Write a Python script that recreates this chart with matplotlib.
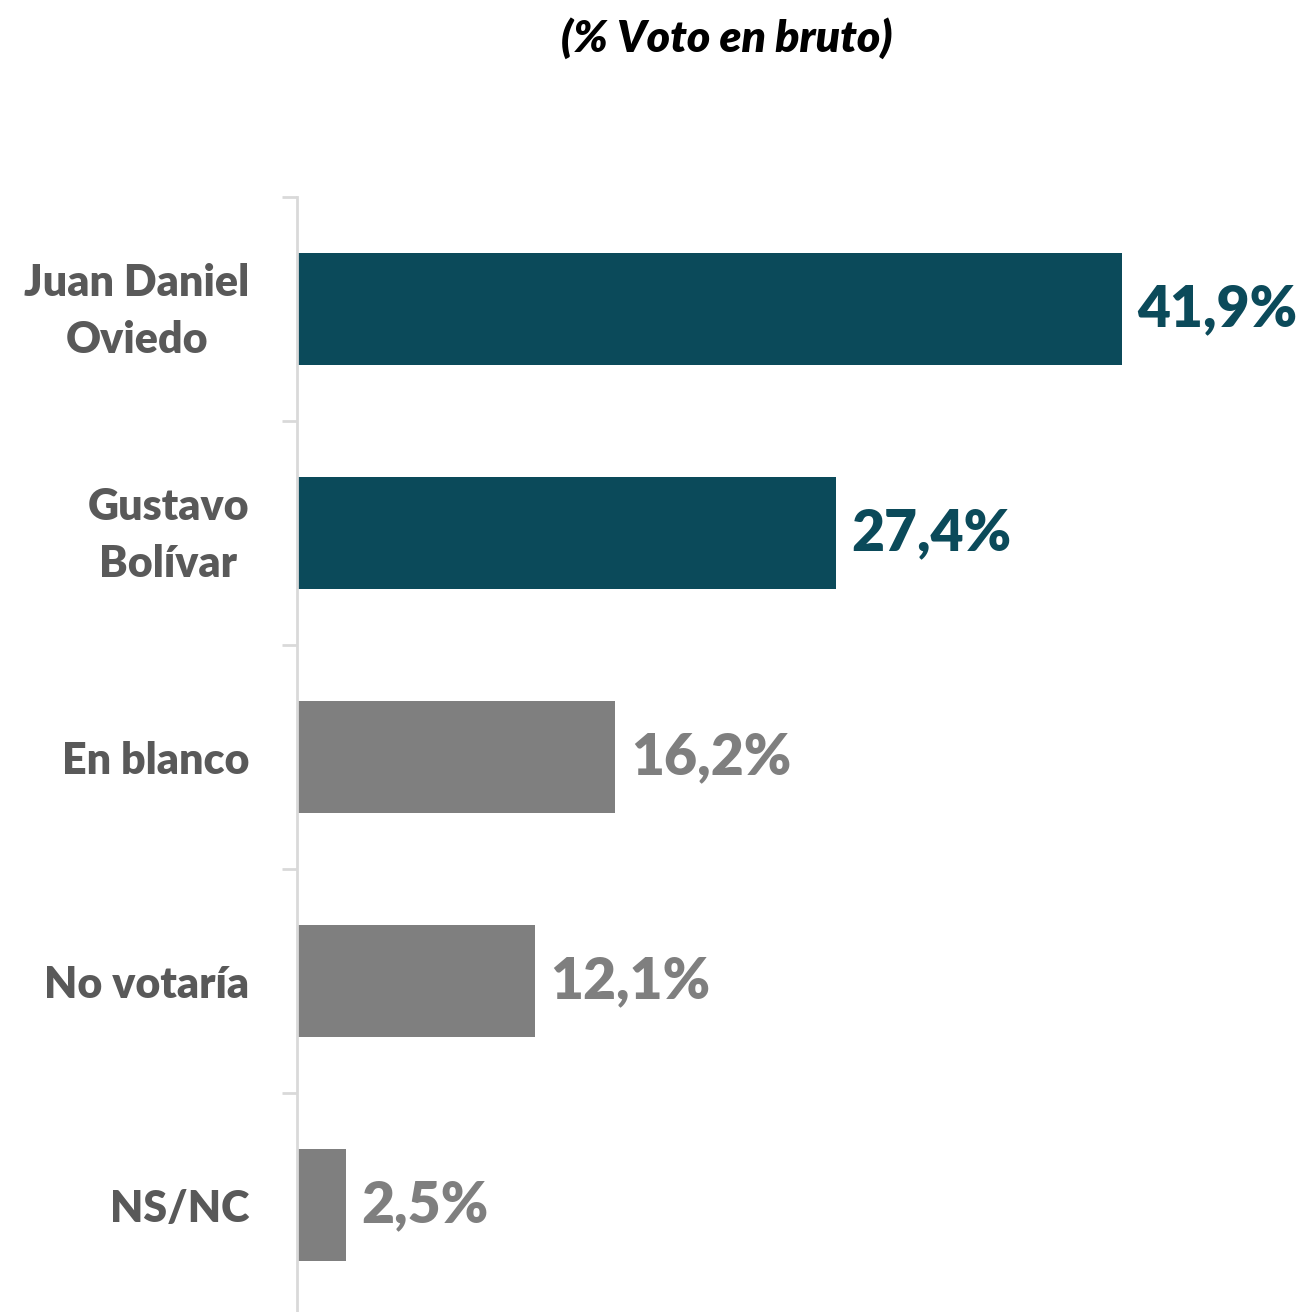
import matplotlib
matplotlib.use("Agg")
import matplotlib.pyplot as plt
import matplotlib.transforms as mtransforms
import numpy as np

categories = ["Juan Daniel\nOviedo", "Gustavo\nBolívar", "En blanco", "No votaría", "NS/NC"]
values = [41.9, 27.4, 16.2, 12.1, 2.5]
value_labels = ["41,9%", "27,4%", "16,2%", "12,1%", "2,5%"]
colors = ["#0B4A5A", "#0B4A5A", "#7F7F7F", "#7F7F7F", "#7F7F7F"]
title = "(% Voto en bruto)"

plt.rcParams['font.family'] = ['Lato', 'DejaVu Sans']

W, H = 1310, 1312
fig = plt.figure(figsize=(W / 100, H / 100), dpi=100)
ax = fig.add_axes([296.5 / W, -5 / H, 1 - 296.5 / W, 1120 / H])

y = np.arange(len(categories))
ax.barh(y, values, height=0.5, color=colors, left=0)
ax.set_xlim(0, 1013.5 / 19.69)
ax.set_ylim(len(categories) - 0.5, -0.5)

for yi, v, lab, c in zip(y, values, value_labels, colors):
    ax.annotate(lab, xy=(v, yi), xytext=(11, 0), textcoords="offset points",
                ha="left", va="center", fontsize=41, fontweight="heavy", color=c)

for s in ["top", "right", "bottom"]:
    ax.spines[s].set_visible(False)
ax.spines["left"].set_color("#D9D9D9")
ax.spines["left"].set_linewidth(2)
ax.xaxis.set_visible(False)

ax.set_yticks(np.arange(-0.5, len(categories) + 0.5, 1.0))
ax.set_yticklabels([])
ax.tick_params(axis="y", which="major", length=11, width=2, color="#D9D9D9")
ax.set_yticks(y, minor=True)
ax.set_yticklabels(categories, minor=True, fontsize=31, fontweight="heavy",
                   color="#595959", multialignment="center", linespacing=1.5)
ax.tick_params(axis="y", which="minor", length=0, pad=34)

shift = mtransforms.ScaledTranslation(0, 9 / 100, fig.dpi_scale_trans)
for t in ax.get_yticklabels(minor=True):
    if "\n" in t.get_text():
        t.set_transform(t.get_transform() + shift)

fig.text(727 / W, 1 - 38 / H, title, ha="center", va="center", fontsize=32,
         fontweight="heavy", fontstyle="italic", color="black")

fig.savefig("out.png", dpi=100)
